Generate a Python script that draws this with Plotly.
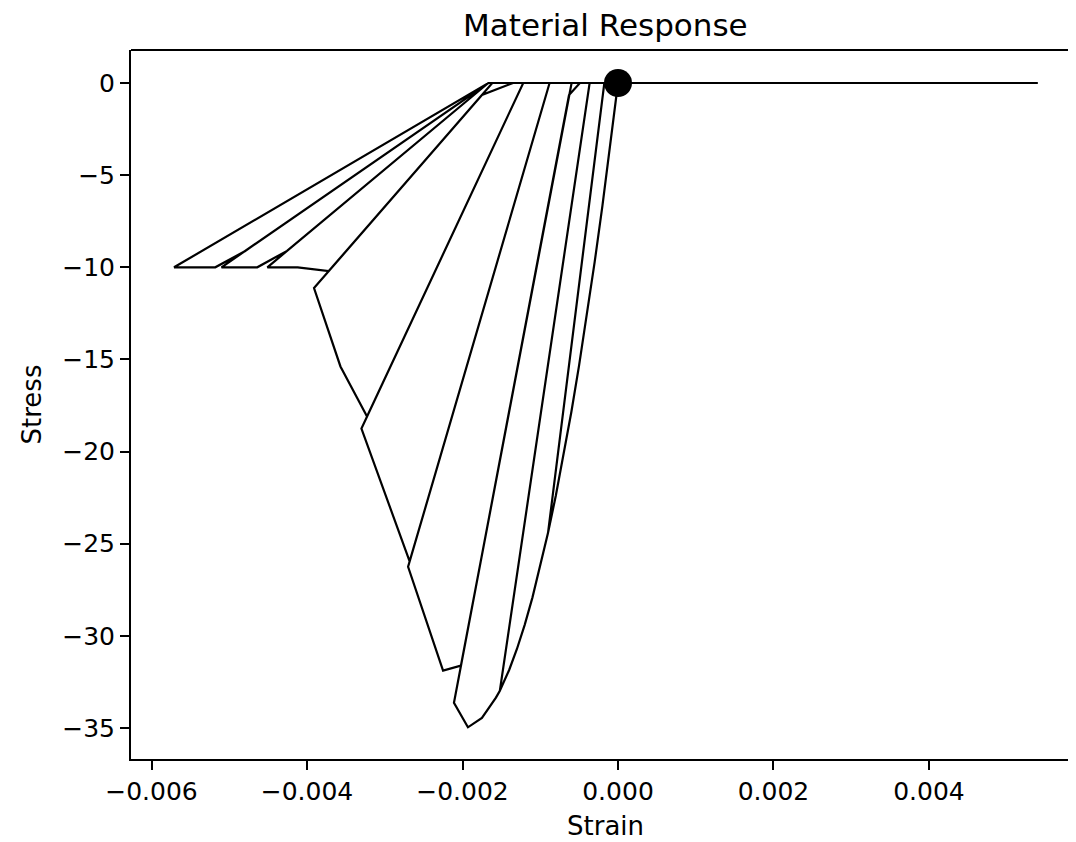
import plotly.graph_objects as go

# Strain-stress path (concrete hysteresis)
strain = [
    0.0, -0.0001, -0.0002, -0.0003, -0.0004, -0.0005, -0.0006, -0.0007, -0.0008, -0.0009,
    -0.000176, 0.0006, -0.000176, -0.0009,
    -0.0010, -0.0011, -0.0012, -0.0013, -0.0014, -0.0015, -0.00152,
    -0.000365, 0.0012, -0.000365, -0.00152,
    -0.00157, -0.00175, -0.00193, -0.00211,
    -0.00063, -0.00049, 0.0018, -0.000597, -0.00202, -0.00225, -0.0027,
    -0.00088, 0.0024, -0.00088, -0.00268, -0.0033,
    -0.001219, 0.0030, -0.001219, -0.003228, -0.00357, -0.00391,
    -0.00175, -0.00135, 0.0036, -0.001617, -0.00372, -0.00412, -0.00451,
    -0.001668, 0.0042, -0.001668, -0.004257, -0.00464, -0.0051,
    -0.001668, 0.0048, -0.001668, -0.0048, -0.00518, -0.00571,
    -0.001668, 0.0054,
]
stress = [
    0.0, -3.41, -6.65, -9.71, -12.6, -15.31, -17.85, -20.21, -22.4, -24.41,
    0.0, 0.0, 0.0, -24.41,
    -26.25, -27.91, -29.4, -30.71, -31.85, -32.81, -32.98,
    0.0, 0.0, 0.0, -32.98,
    -33.35, -34.45, -34.96, -33.63,
    -0.65, 0.0, 0.0, 0.0, -31.61, -31.88, -26.25,
    0.0, 0.0, 0.0, -25.96, -18.75,
    0.0, 0.0, 0.0, -18.10, -15.38, -11.13,
    -0.65, 0.0, 0.0, 0.0, -10.2, -10.0, -10.0,
    0.0, 0.0, 0.0, -9.11, -10.0, -10.0,
    0.0, 0.0, 0.0, -9.13, -10.0, -10.0,
    0.0, 0.0,
]
marker_strain = [0.0]
marker_stress = [0.0]

x_ticks = [-0.006, -0.004, -0.002, 0.0, 0.002, 0.004]
x_tick_labels = ["\u22120.006", "\u22120.004", "\u22120.002", "0.000", "0.002", "0.004"]
y_ticks = [0, -5, -10, -15, -20, -25, -30, -35]
y_tick_labels = ["0", "\u22125", "\u221210", "\u221215", "\u221220", "\u221225", "\u221230", "\u221235"]

FONT = "DejaVu Sans"
TICK = 25

fig = go.Figure()
fig.add_trace(go.Scatter(x=strain, y=stress, mode="lines",
                         line=dict(color="black", width=2.2), hoverinfo="skip",
                         showlegend=False))
fig.add_trace(go.Scatter(x=marker_strain, y=marker_stress, mode="markers",
                         marker=dict(color="black", size=28), showlegend=False))

fig.update_layout(
    width=1068, height=834,
    margin=dict(l=123, r=0, t=42, b=83),
    paper_bgcolor="white", plot_bgcolor="white",
    font=dict(family=FONT, color="black", size=TICK),
    xaxis=dict(range=[-0.006264, 0.005891], tickvals=x_ticks, ticktext=x_tick_labels,
               showgrid=False, zeroline=False, showline=True, linecolor="black",
               linewidth=2, mirror=False, ticks="outside", ticklen=9, tickwidth=2,
               tickcolor="black", tickfont=dict(family=FONT, size=TICK, color="black")),
    yaxis=dict(range=[-36.68, 1.79], tickvals=y_ticks, ticktext=y_tick_labels,
               showgrid=False, zeroline=False, showline=True, linecolor="black",
               linewidth=2, mirror=False, ticks="outside", ticklen=9, tickwidth=2,
               tickcolor="black", tickfont=dict(family=FONT, size=TICK, color="black")),
    shapes=[dict(type="line", xref="paper", yref="paper", x0=0, x1=1, y0=1, y1=1,
                 line=dict(color="black", width=2))],
    annotations=[
        dict(text="Material Response", xref="paper", yref="paper", x=0.5026, y=1.0353,
             xanchor="center", yanchor="middle", showarrow=False,
             font=dict(family=FONT, size=31, color="black")),
        dict(text="Strain", xref="paper", yref="paper", x=0.5026, y=-0.0945,
             xanchor="center", yanchor="middle", showarrow=False,
             font=dict(family=FONT, size=26, color="black")),
        dict(text="Stress", xref="paper", yref="paper", x=-0.1048, y=0.5,
             xanchor="center", yanchor="middle", showarrow=False, textangle=-90,
             font=dict(family=FONT, size=26, color="black")),
    ],
)

fig.write_html("out.html")
